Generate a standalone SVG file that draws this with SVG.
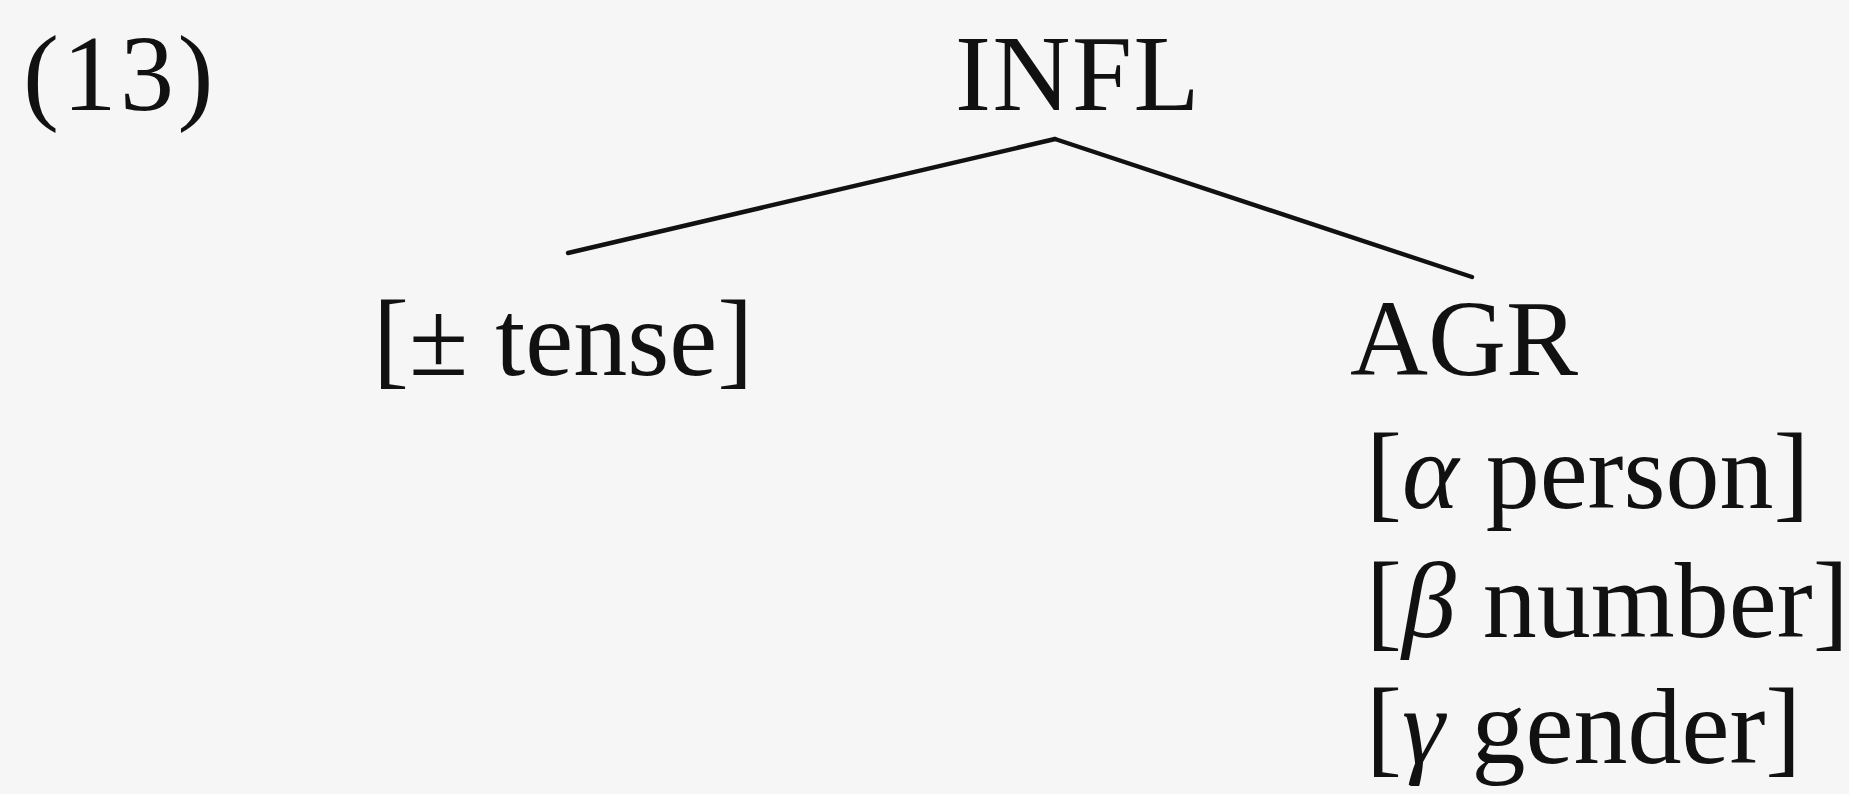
<svg xmlns="http://www.w3.org/2000/svg" width="1849" height="794" viewBox="0 0 1849 794">
  <style>
    .t { font-family: "Liberation Serif", "Times New Roman", serif; font-size: 108px; fill: #111; }
    .g { font-style: italic; }
    .edge { stroke: #111; stroke-width: 4.4; fill: none; stroke-linecap: round; }
  </style>
  <rect x="0" y="0" width="1849" height="794" fill="#f6f6f6"/>
  <g id="label-13">
    <text class="t" x="23" y="110" letter-spacing="3.5">(13)</text>
  </g>
  <g id="node-infl">
    <text class="t" x="955" y="110" letter-spacing="1.5">INFL</text>
  </g>
  <g id="node-tense">
    <text class="t" x="373" y="375">[± tense]</text>
  </g>
  <g id="node-agr">
    <text class="t" x="1350" y="375">AGR</text>
    <text class="t" x="1366" y="508">[<tspan class="g">α</tspan> person]</text>
    <text class="t" x="1366" y="637">[<tspan class="g">β</tspan> number]</text>
    <text class="t" x="1366" y="763">[<tspan class="g">γ</tspan> gender]</text>
  </g>
  <g id="connectors">
    <line class="edge" x1="1055" y1="139" x2="568" y2="253"/>
    <line class="edge" x1="1055" y1="139" x2="1472" y2="277"/>
  </g>
</svg>
